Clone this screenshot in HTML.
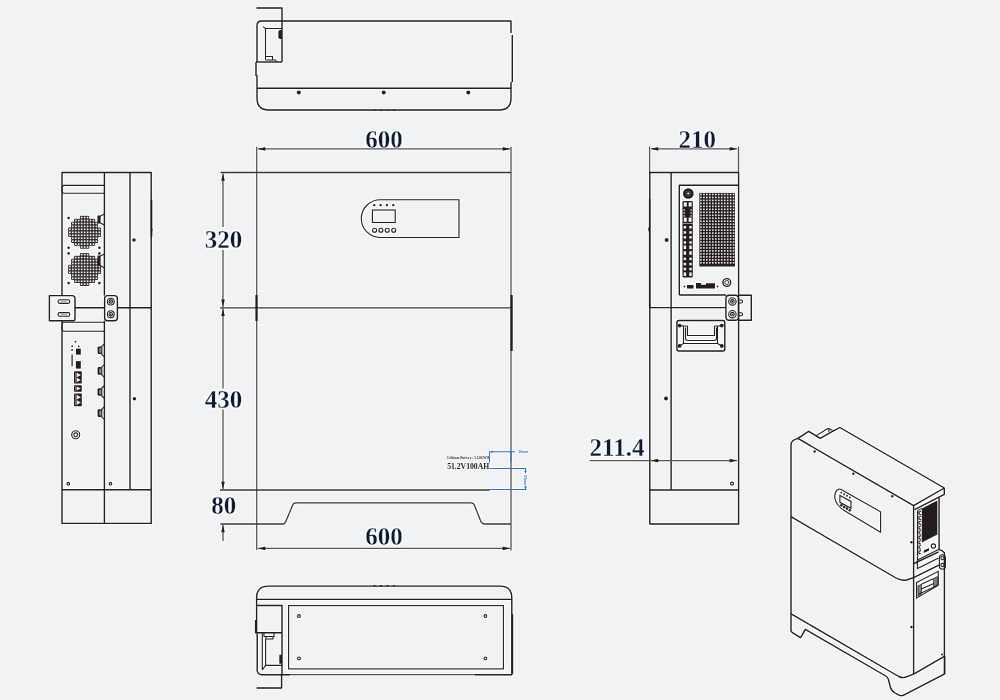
<!DOCTYPE html>
<html><head><meta charset="utf-8">
<style>
html,body{margin:0;padding:0;background:#f1f2f4;}
body{width:1000px;height:700px;overflow:hidden;}
svg{display:block;}
.o{fill:none;stroke:#251d1d;stroke-width:1.4;stroke-linejoin:round;}
.t{fill:none;stroke:#251d1d;stroke-width:1.1;}
.d{fill:none;stroke:#4a4140;stroke-width:1.2;}
.k{fill:#251d1d;stroke:none;}
.f{fill:none;stroke:#5a5050;stroke-width:1.3;}
.f2{fill:none;stroke:#3e3535;stroke-width:1.3;}
.k2{fill:#251d1d;stroke:none;}
.b{fill:none;stroke:#2f6fc0;stroke-width:1.05;}
.num{font-family:"Liberation Serif",serif;font-weight:bold;font-size:25px;fill:#0d1a33;stroke:#f1f2f4;stroke-width:0.3px;}
</style></head>
<body>
<svg width="1000" height="700" viewBox="0 0 1000 700">
<defs>
<filter id="halo" x="-2%" y="-2%" width="104%" height="104%" color-interpolation-filters="sRGB">
<feMorphology in="SourceAlpha" operator="dilate" radius="1.1" result="d"/>
<feFlood flood-color="#ffffff" flood-opacity="0.85"/>
<feComposite in2="d" operator="in" result="w"/>
<feMerge><feMergeNode in="w"/><feMergeNode in="SourceGraphic"/></feMerge>
</filter>
</defs>
<rect width="1000" height="700" fill="#f1f2f4"/>
<g filter="url(#halo)">


<!-- ========== TOP VIEW ========== -->
<g id="top">
  <path class="o" d="M256.5 8 H282 V62"/>
  <path class="o" d="M257 62 V25.5 Q257 21 261.5 21 H511 V33" stroke-width="1.6"/>
  <path class="o" d="M512.3 35 V82"/>
  <path class="o" d="M511 82 V98 Q511 110 499 110 H269 Q257 110 257 98 V75" stroke-width="1.7"/>
  <g class="k"><ellipse cx="374.5" cy="110.1" rx="1.3" ry="0.7"/><ellipse cx="381" cy="110.1" rx="1.3" ry="0.7"/><ellipse cx="387.5" cy="110.1" rx="1.3" ry="0.7"/><ellipse cx="394" cy="110.1" rx="1.3" ry="0.7"/></g>
  <path class="o" d="M256 62 V76" stroke-width="2.2"/>
  <path class="o" d="M256 62 H282"/>
  <path class="t" d="M263 26.6 L265.5 28.5 H281.5 M265.5 28.5 V59.5"/>
  <path class="k" d="M281.8 30 h-1.6 q-1.8 0 -1.8 1.8 v5.4 q0 1.8 1.8 1.8 h1.6z"/>
  <path class="t" d="M265.5 56.5 h7 v3 M265.5 60 h10 l1.5 2"/>
  <path class="o" d="M257 88.3 H511"/>
  <circle class="k" cx="298.8" cy="92.6" r="2"/>
  <circle class="k" cx="383.7" cy="92.6" r="2"/>
  <circle class="k" cx="468.3" cy="92.6" r="2"/>
</g>



<!-- ========== FRONT VIEW ========== -->
<g id="front">
  <!-- extension / outline -->
  <path class="f" d="M256.7 146.7 V550"/>
  <path class="f" d="M511 146.7 V550.5"/>
  <path class="f2" d="M220.5 172.5 H511"/>
  <path class="f2" d="M220 307.8 H511"/>
  <path class="f2" d="M220 490 H489.5"/>
  <path class="f2" d="M220.4 524 H283 Q285 524 285.8 521.5 L292.8 504.8 Q293.6 502.8 296 502.8 H471 Q473.4 502.8 474.2 504.8 L481 521.8 Q482 524 484.5 524 H511"/>
  <path class="k2" d="M255.4 295 h2.2 v26 h-2.2z"/>
  <path class="k2" d="M510.5 295 h2.2 v56 h-2.2z"/>
  <!-- dims top 600 -->
  <path class="f" d="M258 148.9 H510"/>
  <path class="k2" d="M258 148.9 l7.3 -1.9 v3.8z M510 148.9 l-7.3 -1.9 v3.8z"/>
  <text class="num" x="384" y="147.7" text-anchor="middle">600</text>
  <!-- 320 / 430 / 80 -->
  <path class="f" d="M223 173.5 V227 M223 250 V388.5 M223 409.5 V489 M223 525 V541"/>
  <path class="k2" d="M223 173.5 l-1.8 7.3 h3.6z M223 306.8 l-1.8 -7.3 h3.6z M223 308.8 l-1.8 7.3 h3.6z M223 489 l-1.8 -7.3 h3.6z M223 525 l-1.8 7.3 h3.6z"/>
  <text class="num" x="223.5" y="248.4" text-anchor="middle">320</text>
  <text class="num" x="223.4" y="407.9" text-anchor="middle">430</text>
  <text class="num" x="223.8" y="513.7" text-anchor="middle">80</text>
  <!-- bottom 600 -->
  <path class="f" d="M258 548.4 H510"/>
  <path class="k2" d="M258 548.4 l7.3 -1.9 v3.8z M510 548.4 l-7.3 -1.9 v3.8z"/>
  <text class="num" x="384" y="545" text-anchor="middle">600</text>
  <!-- display panel -->
  <path class="t" d="M380.3 199.7 H459 V237.5 H380.3 A19 18.9 0 0 1 380.3 199.7 Z"/>
  <rect class="t" x="372.4" y="210" width="22.8" height="12.5"/>
  <circle class="k" cx="374.3" cy="205.1" r="1.2"/>
  <circle class="k" cx="380.6" cy="205.1" r="1.2"/>
  <circle class="k" cx="386.9" cy="205.1" r="1.2"/>
  <circle class="k" cx="393.3" cy="205.1" r="1.2"/>
  <circle class="t" cx="374.6" cy="230.2" r="2"/>
  <circle class="t" cx="380.9" cy="230.2" r="2"/>
  <circle class="t" cx="387.2" cy="230.2" r="2"/>
  <circle class="t" cx="393.7" cy="230.2" r="2"/>
  <!-- label -->
  <text x="447.2" y="458.6" font-family="Liberation Serif" font-size="3.6" font-weight="bold" fill="#333" textLength="42" lengthAdjust="spacingAndGlyphs">Lithium Battery :  5.12KWH</text>
  <text x="447.2" y="469" font-family="Liberation Serif" font-size="8" font-weight="bold" fill="#1b1b1b" textLength="42" lengthAdjust="spacingAndGlyphs">51.2V100AH</text>
  <g class="b">
    <path d="M489.5 451.7 V462.5 M489.5 451.7 H515.2 M511 451.3 V462.5 M489.5 468.5 H526.4 M525.5 468.5 V473.2 M525.5 485.8 V489.6 M489 489.5 H526.4"/>
  </g>
  <path fill="#2f6fc0" d="M489.8 451.7 l2.8 -1.3 v2.6z M525.5 469.2 l-1.3 2.8 h2.6z M525.5 489.2 l-1.3 -2.8 h2.6z"/>
  <text x="518.3" y="453" font-family="Liberation Sans" font-size="3.4" font-weight="bold" fill="#2f6fc0">10mm</text>
  <text transform="translate(524.3 475.3) rotate(90)" font-family="Liberation Sans" font-size="3.4" font-weight="bold" fill="#2f6fc0">50mm</text>
</g>



<!-- ========== RIGHT SIDE VIEW ========== -->
<g id="rside">
  <path class="f" d="M649.6 146.5 V172.5 M738.5 146.5 V172.5"/>
  <path class="f" d="M651 148.8 H737"/>
  <path class="k2" d="M651 148.8 l7.3 -1.9 v3.8z M737 148.8 l-7.3 -1.9 v3.8z"/>
  <text class="num" x="697.2" y="147.8" text-anchor="middle">210</text>
  <!-- body -->
  <path class="o" d="M649.8 172.5 H738.6 V524 H649.8 Z" />
  <path class="o" d="M671.1 172.5 V490" stroke-width="1.9"/>
  <path class="o" d="M649.8 307.6 H725.9"/>
  <path class="o" d="M649.8 490 H738.6"/>
  <path class="k2" d="M648.9 199.3 h1.5 v108 h-1.5z"/><path class="k2" d="M649.2 226.5 q-2 2.8 0 5.6z"/>
  <circle class="k" cx="666.6" cy="240" r="2"/>
  <circle class="k" cx="666" cy="398.4" r="2"/>
  <circle class="t" cx="732" cy="483.6" r="1.5"/>
  <!-- panel -->
  <path class="o" d="M679.3 295 V185.3 H738.6"/>
  <path class="o" d="M679.3 295 H726"/>
  <g id="grilleR"><rect x="699.3" y="192.9" width="35.7" height="73.6" fill="#251d1d"/><g fill="#ecebed"><rect x="700.13" y="193.69" width="1.6" height="1.6"/><rect x="700.13" y="196.66" width="1.6" height="1.6"/><rect x="700.13" y="199.62" width="1.6" height="1.6"/><rect x="700.13" y="202.59" width="1.6" height="1.6"/><rect x="700.13" y="205.56" width="1.6" height="1.6"/><rect x="700.13" y="208.53" width="1.6" height="1.6"/><rect x="700.13" y="211.50" width="1.6" height="1.6"/><rect x="700.13" y="214.47" width="1.6" height="1.6"/><rect x="700.13" y="217.44" width="1.6" height="1.6"/><rect x="700.13" y="220.41" width="1.6" height="1.6"/><rect x="700.13" y="223.38" width="1.6" height="1.6"/><rect x="700.13" y="226.35" width="1.6" height="1.6"/><rect x="700.13" y="229.32" width="1.6" height="1.6"/><rect x="700.13" y="232.29" width="1.6" height="1.6"/><rect x="700.13" y="235.26" width="1.6" height="1.6"/><rect x="700.13" y="238.23" width="1.6" height="1.6"/><rect x="700.13" y="241.20" width="1.6" height="1.6"/><rect x="700.13" y="244.17" width="1.6" height="1.6"/><rect x="700.13" y="247.14" width="1.6" height="1.6"/><rect x="700.13" y="250.11" width="1.6" height="1.6"/><rect x="700.13" y="253.09" width="1.6" height="1.6"/><rect x="700.13" y="256.06" width="1.6" height="1.6"/><rect x="700.13" y="259.03" width="1.6" height="1.6"/><rect x="700.13" y="262.00" width="1.6" height="1.6"/><rect x="703.11" y="193.69" width="1.6" height="1.6"/><rect x="703.11" y="196.66" width="1.6" height="1.6"/><rect x="703.11" y="199.62" width="1.6" height="1.6"/><rect x="703.11" y="202.59" width="1.6" height="1.6"/><rect x="703.11" y="205.56" width="1.6" height="1.6"/><rect x="703.11" y="208.53" width="1.6" height="1.6"/><rect x="703.11" y="211.50" width="1.6" height="1.6"/><rect x="703.11" y="214.47" width="1.6" height="1.6"/><rect x="703.11" y="217.44" width="1.6" height="1.6"/><rect x="703.11" y="220.41" width="1.6" height="1.6"/><rect x="703.11" y="223.38" width="1.6" height="1.6"/><rect x="703.11" y="226.35" width="1.6" height="1.6"/><rect x="703.11" y="229.32" width="1.6" height="1.6"/><rect x="703.11" y="232.29" width="1.6" height="1.6"/><rect x="703.11" y="235.26" width="1.6" height="1.6"/><rect x="703.11" y="238.23" width="1.6" height="1.6"/><rect x="703.11" y="241.20" width="1.6" height="1.6"/><rect x="703.11" y="244.17" width="1.6" height="1.6"/><rect x="703.11" y="247.14" width="1.6" height="1.6"/><rect x="703.11" y="250.11" width="1.6" height="1.6"/><rect x="703.11" y="253.09" width="1.6" height="1.6"/><rect x="703.11" y="256.06" width="1.6" height="1.6"/><rect x="703.11" y="259.03" width="1.6" height="1.6"/><rect x="703.11" y="262.00" width="1.6" height="1.6"/><rect x="706.07" y="193.69" width="1.6" height="1.6"/><rect x="706.07" y="196.66" width="1.6" height="1.6"/><rect x="706.07" y="199.62" width="1.6" height="1.6"/><rect x="706.07" y="202.59" width="1.6" height="1.6"/><rect x="706.07" y="205.56" width="1.6" height="1.6"/><rect x="706.07" y="208.53" width="1.6" height="1.6"/><rect x="706.07" y="211.50" width="1.6" height="1.6"/><rect x="706.07" y="214.47" width="1.6" height="1.6"/><rect x="706.07" y="217.44" width="1.6" height="1.6"/><rect x="706.07" y="220.41" width="1.6" height="1.6"/><rect x="706.07" y="223.38" width="1.6" height="1.6"/><rect x="706.07" y="226.35" width="1.6" height="1.6"/><rect x="706.07" y="229.32" width="1.6" height="1.6"/><rect x="706.07" y="232.29" width="1.6" height="1.6"/><rect x="706.07" y="235.26" width="1.6" height="1.6"/><rect x="706.07" y="238.23" width="1.6" height="1.6"/><rect x="706.07" y="241.20" width="1.6" height="1.6"/><rect x="706.07" y="244.17" width="1.6" height="1.6"/><rect x="706.07" y="247.14" width="1.6" height="1.6"/><rect x="706.07" y="250.11" width="1.6" height="1.6"/><rect x="706.07" y="253.09" width="1.6" height="1.6"/><rect x="706.07" y="256.06" width="1.6" height="1.6"/><rect x="706.07" y="259.03" width="1.6" height="1.6"/><rect x="706.07" y="262.00" width="1.6" height="1.6"/><rect x="709.04" y="193.69" width="1.6" height="1.6"/><rect x="709.04" y="196.66" width="1.6" height="1.6"/><rect x="709.04" y="199.62" width="1.6" height="1.6"/><rect x="709.04" y="202.59" width="1.6" height="1.6"/><rect x="709.04" y="205.56" width="1.6" height="1.6"/><rect x="709.04" y="208.53" width="1.6" height="1.6"/><rect x="709.04" y="211.50" width="1.6" height="1.6"/><rect x="709.04" y="214.47" width="1.6" height="1.6"/><rect x="709.04" y="217.44" width="1.6" height="1.6"/><rect x="709.04" y="220.41" width="1.6" height="1.6"/><rect x="709.04" y="223.38" width="1.6" height="1.6"/><rect x="709.04" y="226.35" width="1.6" height="1.6"/><rect x="709.04" y="229.32" width="1.6" height="1.6"/><rect x="709.04" y="232.29" width="1.6" height="1.6"/><rect x="709.04" y="235.26" width="1.6" height="1.6"/><rect x="709.04" y="238.23" width="1.6" height="1.6"/><rect x="709.04" y="241.20" width="1.6" height="1.6"/><rect x="709.04" y="244.17" width="1.6" height="1.6"/><rect x="709.04" y="247.14" width="1.6" height="1.6"/><rect x="709.04" y="250.11" width="1.6" height="1.6"/><rect x="709.04" y="253.09" width="1.6" height="1.6"/><rect x="709.04" y="256.06" width="1.6" height="1.6"/><rect x="709.04" y="259.03" width="1.6" height="1.6"/><rect x="709.04" y="262.00" width="1.6" height="1.6"/><rect x="712.01" y="193.69" width="1.6" height="1.6"/><rect x="712.01" y="196.66" width="1.6" height="1.6"/><rect x="712.01" y="199.62" width="1.6" height="1.6"/><rect x="712.01" y="202.59" width="1.6" height="1.6"/><rect x="712.01" y="205.56" width="1.6" height="1.6"/><rect x="712.01" y="208.53" width="1.6" height="1.6"/><rect x="712.01" y="211.50" width="1.6" height="1.6"/><rect x="712.01" y="214.47" width="1.6" height="1.6"/><rect x="712.01" y="217.44" width="1.6" height="1.6"/><rect x="712.01" y="220.41" width="1.6" height="1.6"/><rect x="712.01" y="223.38" width="1.6" height="1.6"/><rect x="712.01" y="226.35" width="1.6" height="1.6"/><rect x="712.01" y="229.32" width="1.6" height="1.6"/><rect x="712.01" y="232.29" width="1.6" height="1.6"/><rect x="712.01" y="235.26" width="1.6" height="1.6"/><rect x="712.01" y="238.23" width="1.6" height="1.6"/><rect x="712.01" y="241.20" width="1.6" height="1.6"/><rect x="712.01" y="244.17" width="1.6" height="1.6"/><rect x="712.01" y="247.14" width="1.6" height="1.6"/><rect x="712.01" y="250.11" width="1.6" height="1.6"/><rect x="712.01" y="253.09" width="1.6" height="1.6"/><rect x="712.01" y="256.06" width="1.6" height="1.6"/><rect x="712.01" y="259.03" width="1.6" height="1.6"/><rect x="712.01" y="262.00" width="1.6" height="1.6"/><rect x="714.99" y="193.69" width="1.6" height="1.6"/><rect x="714.99" y="196.66" width="1.6" height="1.6"/><rect x="714.99" y="199.62" width="1.6" height="1.6"/><rect x="714.99" y="202.59" width="1.6" height="1.6"/><rect x="714.99" y="205.56" width="1.6" height="1.6"/><rect x="714.99" y="208.53" width="1.6" height="1.6"/><rect x="714.99" y="211.50" width="1.6" height="1.6"/><rect x="714.99" y="214.47" width="1.6" height="1.6"/><rect x="714.99" y="217.44" width="1.6" height="1.6"/><rect x="714.99" y="220.41" width="1.6" height="1.6"/><rect x="714.99" y="223.38" width="1.6" height="1.6"/><rect x="714.99" y="226.35" width="1.6" height="1.6"/><rect x="714.99" y="229.32" width="1.6" height="1.6"/><rect x="714.99" y="232.29" width="1.6" height="1.6"/><rect x="714.99" y="235.26" width="1.6" height="1.6"/><rect x="714.99" y="238.23" width="1.6" height="1.6"/><rect x="714.99" y="241.20" width="1.6" height="1.6"/><rect x="714.99" y="244.17" width="1.6" height="1.6"/><rect x="714.99" y="247.14" width="1.6" height="1.6"/><rect x="714.99" y="250.11" width="1.6" height="1.6"/><rect x="714.99" y="253.09" width="1.6" height="1.6"/><rect x="714.99" y="256.06" width="1.6" height="1.6"/><rect x="714.99" y="259.03" width="1.6" height="1.6"/><rect x="714.99" y="262.00" width="1.6" height="1.6"/><rect x="717.95" y="193.69" width="1.6" height="1.6"/><rect x="717.95" y="196.66" width="1.6" height="1.6"/><rect x="717.95" y="199.62" width="1.6" height="1.6"/><rect x="717.95" y="202.59" width="1.6" height="1.6"/><rect x="717.95" y="205.56" width="1.6" height="1.6"/><rect x="717.95" y="208.53" width="1.6" height="1.6"/><rect x="717.95" y="211.50" width="1.6" height="1.6"/><rect x="717.95" y="214.47" width="1.6" height="1.6"/><rect x="717.95" y="217.44" width="1.6" height="1.6"/><rect x="717.95" y="220.41" width="1.6" height="1.6"/><rect x="717.95" y="223.38" width="1.6" height="1.6"/><rect x="717.95" y="226.35" width="1.6" height="1.6"/><rect x="717.95" y="229.32" width="1.6" height="1.6"/><rect x="717.95" y="232.29" width="1.6" height="1.6"/><rect x="717.95" y="235.26" width="1.6" height="1.6"/><rect x="717.95" y="238.23" width="1.6" height="1.6"/><rect x="717.95" y="241.20" width="1.6" height="1.6"/><rect x="717.95" y="244.17" width="1.6" height="1.6"/><rect x="717.95" y="247.14" width="1.6" height="1.6"/><rect x="717.95" y="250.11" width="1.6" height="1.6"/><rect x="717.95" y="253.09" width="1.6" height="1.6"/><rect x="717.95" y="256.06" width="1.6" height="1.6"/><rect x="717.95" y="259.03" width="1.6" height="1.6"/><rect x="717.95" y="262.00" width="1.6" height="1.6"/><rect x="720.92" y="193.69" width="1.6" height="1.6"/><rect x="720.92" y="196.66" width="1.6" height="1.6"/><rect x="720.92" y="199.62" width="1.6" height="1.6"/><rect x="720.92" y="202.59" width="1.6" height="1.6"/><rect x="720.92" y="205.56" width="1.6" height="1.6"/><rect x="720.92" y="208.53" width="1.6" height="1.6"/><rect x="720.92" y="211.50" width="1.6" height="1.6"/><rect x="720.92" y="214.47" width="1.6" height="1.6"/><rect x="720.92" y="217.44" width="1.6" height="1.6"/><rect x="720.92" y="220.41" width="1.6" height="1.6"/><rect x="720.92" y="223.38" width="1.6" height="1.6"/><rect x="720.92" y="226.35" width="1.6" height="1.6"/><rect x="720.92" y="229.32" width="1.6" height="1.6"/><rect x="720.92" y="232.29" width="1.6" height="1.6"/><rect x="720.92" y="235.26" width="1.6" height="1.6"/><rect x="720.92" y="238.23" width="1.6" height="1.6"/><rect x="720.92" y="241.20" width="1.6" height="1.6"/><rect x="720.92" y="244.17" width="1.6" height="1.6"/><rect x="720.92" y="247.14" width="1.6" height="1.6"/><rect x="720.92" y="250.11" width="1.6" height="1.6"/><rect x="720.92" y="253.09" width="1.6" height="1.6"/><rect x="720.92" y="256.06" width="1.6" height="1.6"/><rect x="720.92" y="259.03" width="1.6" height="1.6"/><rect x="720.92" y="262.00" width="1.6" height="1.6"/><rect x="723.89" y="193.69" width="1.6" height="1.6"/><rect x="723.89" y="196.66" width="1.6" height="1.6"/><rect x="723.89" y="199.62" width="1.6" height="1.6"/><rect x="723.89" y="202.59" width="1.6" height="1.6"/><rect x="723.89" y="205.56" width="1.6" height="1.6"/><rect x="723.89" y="208.53" width="1.6" height="1.6"/><rect x="723.89" y="211.50" width="1.6" height="1.6"/><rect x="723.89" y="214.47" width="1.6" height="1.6"/><rect x="723.89" y="217.44" width="1.6" height="1.6"/><rect x="723.89" y="220.41" width="1.6" height="1.6"/><rect x="723.89" y="223.38" width="1.6" height="1.6"/><rect x="723.89" y="226.35" width="1.6" height="1.6"/><rect x="723.89" y="229.32" width="1.6" height="1.6"/><rect x="723.89" y="232.29" width="1.6" height="1.6"/><rect x="723.89" y="235.26" width="1.6" height="1.6"/><rect x="723.89" y="238.23" width="1.6" height="1.6"/><rect x="723.89" y="241.20" width="1.6" height="1.6"/><rect x="723.89" y="244.17" width="1.6" height="1.6"/><rect x="723.89" y="247.14" width="1.6" height="1.6"/><rect x="723.89" y="250.11" width="1.6" height="1.6"/><rect x="723.89" y="253.09" width="1.6" height="1.6"/><rect x="723.89" y="256.06" width="1.6" height="1.6"/><rect x="723.89" y="259.03" width="1.6" height="1.6"/><rect x="723.89" y="262.00" width="1.6" height="1.6"/><rect x="726.87" y="193.69" width="1.6" height="1.6"/><rect x="726.87" y="196.66" width="1.6" height="1.6"/><rect x="726.87" y="199.62" width="1.6" height="1.6"/><rect x="726.87" y="202.59" width="1.6" height="1.6"/><rect x="726.87" y="205.56" width="1.6" height="1.6"/><rect x="726.87" y="208.53" width="1.6" height="1.6"/><rect x="726.87" y="211.50" width="1.6" height="1.6"/><rect x="726.87" y="214.47" width="1.6" height="1.6"/><rect x="726.87" y="217.44" width="1.6" height="1.6"/><rect x="726.87" y="220.41" width="1.6" height="1.6"/><rect x="726.87" y="223.38" width="1.6" height="1.6"/><rect x="726.87" y="226.35" width="1.6" height="1.6"/><rect x="726.87" y="229.32" width="1.6" height="1.6"/><rect x="726.87" y="232.29" width="1.6" height="1.6"/><rect x="726.87" y="235.26" width="1.6" height="1.6"/><rect x="726.87" y="238.23" width="1.6" height="1.6"/><rect x="726.87" y="241.20" width="1.6" height="1.6"/><rect x="726.87" y="244.17" width="1.6" height="1.6"/><rect x="726.87" y="247.14" width="1.6" height="1.6"/><rect x="726.87" y="250.11" width="1.6" height="1.6"/><rect x="726.87" y="253.09" width="1.6" height="1.6"/><rect x="726.87" y="256.06" width="1.6" height="1.6"/><rect x="726.87" y="259.03" width="1.6" height="1.6"/><rect x="726.87" y="262.00" width="1.6" height="1.6"/><rect x="729.83" y="193.69" width="1.6" height="1.6"/><rect x="729.83" y="196.66" width="1.6" height="1.6"/><rect x="729.83" y="199.62" width="1.6" height="1.6"/><rect x="729.83" y="202.59" width="1.6" height="1.6"/><rect x="729.83" y="205.56" width="1.6" height="1.6"/><rect x="729.83" y="208.53" width="1.6" height="1.6"/><rect x="729.83" y="211.50" width="1.6" height="1.6"/><rect x="729.83" y="214.47" width="1.6" height="1.6"/><rect x="729.83" y="217.44" width="1.6" height="1.6"/><rect x="729.83" y="220.41" width="1.6" height="1.6"/><rect x="729.83" y="223.38" width="1.6" height="1.6"/><rect x="729.83" y="226.35" width="1.6" height="1.6"/><rect x="729.83" y="229.32" width="1.6" height="1.6"/><rect x="729.83" y="232.29" width="1.6" height="1.6"/><rect x="729.83" y="235.26" width="1.6" height="1.6"/><rect x="729.83" y="238.23" width="1.6" height="1.6"/><rect x="729.83" y="241.20" width="1.6" height="1.6"/><rect x="729.83" y="244.17" width="1.6" height="1.6"/><rect x="729.83" y="247.14" width="1.6" height="1.6"/><rect x="729.83" y="250.11" width="1.6" height="1.6"/><rect x="729.83" y="253.09" width="1.6" height="1.6"/><rect x="729.83" y="256.06" width="1.6" height="1.6"/><rect x="729.83" y="259.03" width="1.6" height="1.6"/><rect x="729.83" y="262.00" width="1.6" height="1.6"/><rect x="732.80" y="193.69" width="1.6" height="1.6"/><rect x="732.80" y="196.66" width="1.6" height="1.6"/><rect x="732.80" y="199.62" width="1.6" height="1.6"/><rect x="732.80" y="202.59" width="1.6" height="1.6"/><rect x="732.80" y="205.56" width="1.6" height="1.6"/><rect x="732.80" y="208.53" width="1.6" height="1.6"/><rect x="732.80" y="211.50" width="1.6" height="1.6"/><rect x="732.80" y="214.47" width="1.6" height="1.6"/><rect x="732.80" y="217.44" width="1.6" height="1.6"/><rect x="732.80" y="220.41" width="1.6" height="1.6"/><rect x="732.80" y="223.38" width="1.6" height="1.6"/><rect x="732.80" y="226.35" width="1.6" height="1.6"/><rect x="732.80" y="229.32" width="1.6" height="1.6"/><rect x="732.80" y="232.29" width="1.6" height="1.6"/><rect x="732.80" y="235.26" width="1.6" height="1.6"/><rect x="732.80" y="238.23" width="1.6" height="1.6"/><rect x="732.80" y="241.20" width="1.6" height="1.6"/><rect x="732.80" y="244.17" width="1.6" height="1.6"/><rect x="732.80" y="247.14" width="1.6" height="1.6"/><rect x="732.80" y="250.11" width="1.6" height="1.6"/><rect x="732.80" y="253.09" width="1.6" height="1.6"/><rect x="732.80" y="256.06" width="1.6" height="1.6"/><rect x="732.80" y="259.03" width="1.6" height="1.6"/><rect x="732.80" y="262.00" width="1.6" height="1.6"/></g></g>
  <circle cx="688.3" cy="193.5" r="5.3" fill="#251d1d"/>
  <circle cx="688.3" cy="193.5" r="2.7" fill="none" stroke="#6a6262" stroke-width="0.6"/>
  <circle cx="688.3" cy="193.5" r="1.1" fill="#f1f2f4"/>
  <g id="term"><rect x="682.5" y="201" width="10.3" height="76.4" rx="1" fill="#251d1d"/><g fill="#f1f2f4"><rect x="683.8" y="202.3" width="3" height="4.2"/><rect x="688.6" y="202.3" width="3" height="4.2"/><rect x="683.6" y="209.3" width="1.3" height="1.4"/><rect x="690.4" y="209.3" width="1.3" height="1.4"/><rect x="683.6" y="212.3" width="1.3" height="1.4"/><rect x="690.4" y="212.3" width="1.3" height="1.4"/><rect x="683.6" y="215.3" width="1.3" height="1.4"/><rect x="690.4" y="215.3" width="1.3" height="1.4"/><rect x="683.8" y="217.6" width="3" height="4.2"/><rect x="688.6" y="217.6" width="3" height="4.2"/></g><rect x="682.5" y="223" width="10.3" height="0.9" fill="#f1f2f4" opacity="0.6"/><g fill="#f1f2f4"><rect x="683.7" y="226" width="2.4" height="2.5"/><rect x="689.3" y="226" width="2.4" height="2.5"/><rect x="683.7" y="231.2" width="2.4" height="2.5"/><rect x="689.3" y="231.2" width="2.4" height="2.5"/><rect x="683.7" y="236.1" width="2.4" height="2.5"/><rect x="689.3" y="236.1" width="2.4" height="2.5"/><rect x="683.7" y="241.2" width="2.4" height="2.5"/><rect x="689.3" y="241.2" width="2.4" height="2.5"/><rect x="683.7" y="245.5" width="2.4" height="3.6"/><rect x="689.3" y="245.5" width="2.4" height="3.6"/><rect x="683.7" y="251.2" width="2.4" height="3.6"/><rect x="689.3" y="251.2" width="2.4" height="3.6"/><rect x="683.7" y="257.6" width="2.4" height="2.5"/><rect x="689.3" y="257.6" width="2.4" height="2.5"/><rect x="683.7" y="262.8" width="2.4" height="2.5"/><rect x="689.3" y="262.8" width="2.4" height="2.5"/><rect x="683.7" y="267.8" width="2.4" height="2.5"/><rect x="689.3" y="267.8" width="2.4" height="2.5"/><rect x="683.7" y="272.4" width="2.4" height="3.6"/><rect x="689.3" y="272.4" width="2.4" height="3.6"/></g></g>
  <circle class="k" cx="684.5" cy="286.5" r="0.9"/>
  <rect x="687" y="285" width="6.5" height="3.5" fill="#251d1d"/>
  <path fill="#251d1d" d="M696 288.6 V283 h5 v1.8 h5 v-1.6 h9 v5.4z"/>
  <circle class="k" cx="717.5" cy="286.5" r="0.9"/>
  <circle cx="726.8" cy="282.5" r="3.9" fill="none" stroke="#251d1d" stroke-width="1.4"/>
  <circle cx="726.8" cy="282.5" r="2" fill="none" stroke="#251d1d" stroke-width="0.9"/>
  <!-- bracket -->
  <path class="o" d="M738.6 295.3 H751.3 V320.3 H738.6"/>
  <path class="o" d="M729.2 295.3 H735.3 Q738.5 295.3 738.5 298.5 V317 Q738.5 320.3 735.3 320.3 H729.2 Q725.9 320.3 725.9 317 V298.5 Q725.9 295.3 729.2 295.3 Z"/>
  <circle class="t" cx="732.4" cy="301.4" r="3.7" stroke-width="1"/>
  <circle class="t" cx="732.4" cy="301.4" r="1.8" stroke-width="0.7"/>
  <circle class="k" cx="732.4" cy="301.4" r="0.8"/>
  <circle class="t" cx="732.4" cy="314.2" r="3.7" stroke-width="1"/>
  <circle class="t" cx="732.4" cy="314.2" r="1.8" stroke-width="0.7"/>
  <circle class="k" cx="732.4" cy="314.2" r="0.8"/>
  <path class="t" d="M738.6 300 h2.5 a1.5 1.5 0 0 1 0 3 h-2.5 M738.6 312.8 h2.5 a1.5 1.5 0 0 1 0 3 h-2.5" stroke-width="0.9"/>
  <!-- handle -->
  <rect class="o" x="676.9" y="320.5" width="47.9" height="30.5" rx="2" stroke-width="1.3"/>
  <circle class="k" cx="679.6" cy="325.6" r="1.9"/>
  <circle class="k" cx="721.8" cy="325.6" r="1.9"/>
  <circle class="k" cx="679.6" cy="345.9" r="1.9"/>
  <circle class="k" cx="721.8" cy="345.9" r="1.9"/>
  <path class="t" d="M683.5 326 V343.5 H717.5 V326 M687.5 326 V335.5 H714.5 V326 M683.5 326 H687.5 M714.5 326 H717.5" stroke-width="1.2"/>
  <path class="t" d="M685.5 327.5 V338 Q685.5 340.5 688 340.5 H714 Q716.5 340.5 716.5 338 V327.5" stroke-width="1"/>
  <path class="t" d="M679.6 345.9 L683.5 343.5 M721.8 345.9 L717.5 343.5 M679.6 325.6 L683.5 326 M721.8 325.6 L717.5 326" stroke-width="0.8"/>
  <!-- dim 211.4 -->
  <path class="f" d="M589.6 460.6 H737"/>
  <path class="k2" d="M651 460.6 l7.3 -1.9 v3.8z M737 460.6 l-7.3 -1.9 v3.8z"/>
  <text class="num" x="617" y="455.6" text-anchor="middle">211.4</text>
</g>


<!-- ========== LEFT SIDE VIEW ========== -->
<g id="lside">
  <path class="o" d="M62 295.6 V172.5 H151.2 V523.4 H62 V320.8" stroke-width="1.25"/>
  <path class="o" d="M104.4 172.5 V295.6 M104.4 320.8 V523.4" stroke-width="1.2"/>
  <path class="o" d="M130 172.5 V490" stroke-width="1.9"/>
  <path class="o" d="M62 489.7 H151.2" stroke-width="1.3"/>
  <path class="o" d="M75 307.8 H104.4 M117.4 307.8 H151.2" stroke-width="1.4"/>
  <path class="t" d="M104.4 185.4 H64 Q62 185.4 62 189.3 Q62 193.3 64 193.3 H104.4" stroke-width="1.3"/>
  <path class="t" d="M104.4 322.2 H64 Q62 322.2 62 326.7 Q62 331.2 64 331.2 H104.4" stroke-width="1.3"/>
  <path class="k2" d="M150.6 199.6 h1.7 v37 h-1.7z"/><path class="k2" d="M151.5 227 q2 2.8 0 5.6z"/>
  <circle class="k" cx="134" cy="240" r="1.7"/>
  <circle class="k" cx="134.4" cy="398.8" r="1.7"/>
  <!-- fans -->
  <g id="fans"><g fill="#251d1d"><rect x="68.10" y="227.60" width="3.5" height="3.5" rx="1.2"/><rect x="68.10" y="230.55" width="3.5" height="3.5" rx="1.2"/><rect x="68.10" y="233.50" width="3.5" height="3.5" rx="1.2"/><rect x="71.05" y="221.70" width="3.5" height="3.5" rx="1.2"/><rect x="71.05" y="224.65" width="3.5" height="3.5" rx="1.2"/><rect x="71.05" y="227.60" width="3.5" height="3.5" rx="1.2"/><rect x="71.05" y="230.55" width="3.5" height="3.5" rx="1.2"/><rect x="71.05" y="233.50" width="3.5" height="3.5" rx="1.2"/><rect x="71.05" y="236.45" width="3.5" height="3.5" rx="1.2"/><rect x="71.05" y="239.40" width="3.5" height="3.5" rx="1.2"/><rect x="74.00" y="218.75" width="3.5" height="3.5" rx="1.2"/><rect x="74.00" y="221.70" width="3.5" height="3.5" rx="1.2"/><rect x="74.00" y="224.65" width="3.5" height="3.5" rx="1.2"/><rect x="74.00" y="227.60" width="3.5" height="3.5" rx="1.2"/><rect x="74.00" y="230.55" width="3.5" height="3.5" rx="1.2"/><rect x="74.00" y="233.50" width="3.5" height="3.5" rx="1.2"/><rect x="74.00" y="236.45" width="3.5" height="3.5" rx="1.2"/><rect x="74.00" y="239.40" width="3.5" height="3.5" rx="1.2"/><rect x="74.00" y="242.35" width="3.5" height="3.5" rx="1.2"/><rect x="76.95" y="218.75" width="3.5" height="3.5" rx="1.2"/><rect x="76.95" y="221.70" width="3.5" height="3.5" rx="1.2"/><rect x="76.95" y="224.65" width="3.5" height="3.5" rx="1.2"/><rect x="76.95" y="227.60" width="3.5" height="3.5" rx="1.2"/><rect x="76.95" y="230.55" width="3.5" height="3.5" rx="1.2"/><rect x="76.95" y="233.50" width="3.5" height="3.5" rx="1.2"/><rect x="76.95" y="236.45" width="3.5" height="3.5" rx="1.2"/><rect x="76.95" y="239.40" width="3.5" height="3.5" rx="1.2"/><rect x="76.95" y="242.35" width="3.5" height="3.5" rx="1.2"/><rect x="79.90" y="215.80" width="3.5" height="3.5" rx="1.2"/><rect x="79.90" y="218.75" width="3.5" height="3.5" rx="1.2"/><rect x="79.90" y="221.70" width="3.5" height="3.5" rx="1.2"/><rect x="79.90" y="224.65" width="3.5" height="3.5" rx="1.2"/><rect x="79.90" y="227.60" width="3.5" height="3.5" rx="1.2"/><rect x="79.90" y="230.55" width="3.5" height="3.5" rx="1.2"/><rect x="79.90" y="233.50" width="3.5" height="3.5" rx="1.2"/><rect x="79.90" y="236.45" width="3.5" height="3.5" rx="1.2"/><rect x="79.90" y="239.40" width="3.5" height="3.5" rx="1.2"/><rect x="79.90" y="242.35" width="3.5" height="3.5" rx="1.2"/><rect x="79.90" y="245.30" width="3.5" height="3.5" rx="1.2"/><rect x="82.85" y="215.80" width="3.5" height="3.5" rx="1.2"/><rect x="82.85" y="218.75" width="3.5" height="3.5" rx="1.2"/><rect x="82.85" y="221.70" width="3.5" height="3.5" rx="1.2"/><rect x="82.85" y="224.65" width="3.5" height="3.5" rx="1.2"/><rect x="82.85" y="227.60" width="3.5" height="3.5" rx="1.2"/><rect x="82.85" y="230.55" width="3.5" height="3.5" rx="1.2"/><rect x="82.85" y="233.50" width="3.5" height="3.5" rx="1.2"/><rect x="82.85" y="236.45" width="3.5" height="3.5" rx="1.2"/><rect x="82.85" y="239.40" width="3.5" height="3.5" rx="1.2"/><rect x="82.85" y="242.35" width="3.5" height="3.5" rx="1.2"/><rect x="82.85" y="245.30" width="3.5" height="3.5" rx="1.2"/><rect x="85.80" y="215.80" width="3.5" height="3.5" rx="1.2"/><rect x="85.80" y="218.75" width="3.5" height="3.5" rx="1.2"/><rect x="85.80" y="221.70" width="3.5" height="3.5" rx="1.2"/><rect x="85.80" y="224.65" width="3.5" height="3.5" rx="1.2"/><rect x="85.80" y="227.60" width="3.5" height="3.5" rx="1.2"/><rect x="85.80" y="230.55" width="3.5" height="3.5" rx="1.2"/><rect x="85.80" y="233.50" width="3.5" height="3.5" rx="1.2"/><rect x="85.80" y="236.45" width="3.5" height="3.5" rx="1.2"/><rect x="85.80" y="239.40" width="3.5" height="3.5" rx="1.2"/><rect x="85.80" y="242.35" width="3.5" height="3.5" rx="1.2"/><rect x="85.80" y="245.30" width="3.5" height="3.5" rx="1.2"/><rect x="88.75" y="218.75" width="3.5" height="3.5" rx="1.2"/><rect x="88.75" y="221.70" width="3.5" height="3.5" rx="1.2"/><rect x="88.75" y="224.65" width="3.5" height="3.5" rx="1.2"/><rect x="88.75" y="227.60" width="3.5" height="3.5" rx="1.2"/><rect x="88.75" y="230.55" width="3.5" height="3.5" rx="1.2"/><rect x="88.75" y="233.50" width="3.5" height="3.5" rx="1.2"/><rect x="88.75" y="236.45" width="3.5" height="3.5" rx="1.2"/><rect x="88.75" y="239.40" width="3.5" height="3.5" rx="1.2"/><rect x="88.75" y="242.35" width="3.5" height="3.5" rx="1.2"/><rect x="91.70" y="218.75" width="3.5" height="3.5" rx="1.2"/><rect x="91.70" y="221.70" width="3.5" height="3.5" rx="1.2"/><rect x="91.70" y="224.65" width="3.5" height="3.5" rx="1.2"/><rect x="91.70" y="227.60" width="3.5" height="3.5" rx="1.2"/><rect x="91.70" y="230.55" width="3.5" height="3.5" rx="1.2"/><rect x="91.70" y="233.50" width="3.5" height="3.5" rx="1.2"/><rect x="91.70" y="236.45" width="3.5" height="3.5" rx="1.2"/><rect x="91.70" y="239.40" width="3.5" height="3.5" rx="1.2"/><rect x="91.70" y="242.35" width="3.5" height="3.5" rx="1.2"/><rect x="94.65" y="221.70" width="3.5" height="3.5" rx="1.2"/><rect x="94.65" y="224.65" width="3.5" height="3.5" rx="1.2"/><rect x="94.65" y="227.60" width="3.5" height="3.5" rx="1.2"/><rect x="94.65" y="230.55" width="3.5" height="3.5" rx="1.2"/><rect x="94.65" y="233.50" width="3.5" height="3.5" rx="1.2"/><rect x="94.65" y="236.45" width="3.5" height="3.5" rx="1.2"/><rect x="94.65" y="239.40" width="3.5" height="3.5" rx="1.2"/><rect x="97.60" y="227.60" width="3.5" height="3.5" rx="1.2"/><rect x="97.60" y="230.55" width="3.5" height="3.5" rx="1.2"/><rect x="97.60" y="233.50" width="3.5" height="3.5" rx="1.2"/></g><g fill="#f4f4f6"><rect x="69.00" y="228.50" width="1.7" height="1.7"/><rect x="69.00" y="231.45" width="1.7" height="1.7"/><rect x="69.00" y="234.40" width="1.7" height="1.7"/><rect x="71.95" y="222.60" width="1.7" height="1.7"/><rect x="71.95" y="225.55" width="1.7" height="1.7"/><rect x="71.95" y="228.50" width="1.7" height="1.7"/><rect x="71.95" y="231.45" width="1.7" height="1.7"/><rect x="71.95" y="234.40" width="1.7" height="1.7"/><rect x="71.95" y="237.35" width="1.7" height="1.7"/><rect x="71.95" y="240.30" width="1.7" height="1.7"/><rect x="74.90" y="219.65" width="1.7" height="1.7"/><rect x="74.90" y="222.60" width="1.7" height="1.7"/><rect x="74.90" y="225.55" width="1.7" height="1.7"/><rect x="74.90" y="228.50" width="1.7" height="1.7"/><rect x="74.90" y="231.45" width="1.7" height="1.7"/><rect x="74.90" y="234.40" width="1.7" height="1.7"/><rect x="74.90" y="237.35" width="1.7" height="1.7"/><rect x="74.90" y="240.30" width="1.7" height="1.7"/><rect x="74.90" y="243.25" width="1.7" height="1.7"/><rect x="77.85" y="219.65" width="1.7" height="1.7"/><rect x="77.85" y="222.60" width="1.7" height="1.7"/><rect x="77.85" y="225.55" width="1.7" height="1.7"/><rect x="77.85" y="228.50" width="1.7" height="1.7"/><rect x="77.85" y="231.45" width="1.7" height="1.7"/><rect x="77.85" y="234.40" width="1.7" height="1.7"/><rect x="77.85" y="237.35" width="1.7" height="1.7"/><rect x="77.85" y="240.30" width="1.7" height="1.7"/><rect x="77.85" y="243.25" width="1.7" height="1.7"/><rect x="80.80" y="216.70" width="1.7" height="1.7"/><rect x="80.80" y="219.65" width="1.7" height="1.7"/><rect x="80.80" y="222.60" width="1.7" height="1.7"/><rect x="80.80" y="225.55" width="1.7" height="1.7"/><rect x="80.80" y="228.50" width="1.7" height="1.7"/><rect x="80.80" y="231.45" width="1.7" height="1.7"/><rect x="80.80" y="234.40" width="1.7" height="1.7"/><rect x="80.80" y="237.35" width="1.7" height="1.7"/><rect x="80.80" y="240.30" width="1.7" height="1.7"/><rect x="80.80" y="243.25" width="1.7" height="1.7"/><rect x="80.80" y="246.20" width="1.7" height="1.7"/><rect x="83.75" y="216.70" width="1.7" height="1.7"/><rect x="83.75" y="219.65" width="1.7" height="1.7"/><rect x="83.75" y="222.60" width="1.7" height="1.7"/><rect x="83.75" y="225.55" width="1.7" height="1.7"/><rect x="83.75" y="228.50" width="1.7" height="1.7"/><rect x="83.75" y="231.45" width="1.7" height="1.7"/><rect x="83.75" y="234.40" width="1.7" height="1.7"/><rect x="83.75" y="237.35" width="1.7" height="1.7"/><rect x="83.75" y="240.30" width="1.7" height="1.7"/><rect x="83.75" y="243.25" width="1.7" height="1.7"/><rect x="83.75" y="246.20" width="1.7" height="1.7"/><rect x="86.70" y="216.70" width="1.7" height="1.7"/><rect x="86.70" y="219.65" width="1.7" height="1.7"/><rect x="86.70" y="222.60" width="1.7" height="1.7"/><rect x="86.70" y="225.55" width="1.7" height="1.7"/><rect x="86.70" y="228.50" width="1.7" height="1.7"/><rect x="86.70" y="231.45" width="1.7" height="1.7"/><rect x="86.70" y="234.40" width="1.7" height="1.7"/><rect x="86.70" y="237.35" width="1.7" height="1.7"/><rect x="86.70" y="240.30" width="1.7" height="1.7"/><rect x="86.70" y="243.25" width="1.7" height="1.7"/><rect x="86.70" y="246.20" width="1.7" height="1.7"/><rect x="89.65" y="219.65" width="1.7" height="1.7"/><rect x="89.65" y="222.60" width="1.7" height="1.7"/><rect x="89.65" y="225.55" width="1.7" height="1.7"/><rect x="89.65" y="228.50" width="1.7" height="1.7"/><rect x="89.65" y="231.45" width="1.7" height="1.7"/><rect x="89.65" y="234.40" width="1.7" height="1.7"/><rect x="89.65" y="237.35" width="1.7" height="1.7"/><rect x="89.65" y="240.30" width="1.7" height="1.7"/><rect x="89.65" y="243.25" width="1.7" height="1.7"/><rect x="92.60" y="219.65" width="1.7" height="1.7"/><rect x="92.60" y="222.60" width="1.7" height="1.7"/><rect x="92.60" y="225.55" width="1.7" height="1.7"/><rect x="92.60" y="228.50" width="1.7" height="1.7"/><rect x="92.60" y="231.45" width="1.7" height="1.7"/><rect x="92.60" y="234.40" width="1.7" height="1.7"/><rect x="92.60" y="237.35" width="1.7" height="1.7"/><rect x="92.60" y="240.30" width="1.7" height="1.7"/><rect x="92.60" y="243.25" width="1.7" height="1.7"/><rect x="95.55" y="222.60" width="1.7" height="1.7"/><rect x="95.55" y="225.55" width="1.7" height="1.7"/><rect x="95.55" y="228.50" width="1.7" height="1.7"/><rect x="95.55" y="231.45" width="1.7" height="1.7"/><rect x="95.55" y="234.40" width="1.7" height="1.7"/><rect x="95.55" y="237.35" width="1.7" height="1.7"/><rect x="95.55" y="240.30" width="1.7" height="1.7"/><rect x="98.50" y="228.50" width="1.7" height="1.7"/><rect x="98.50" y="231.45" width="1.7" height="1.7"/><rect x="98.50" y="234.40" width="1.7" height="1.7"/></g><g fill="#251d1d"><rect x="68.10" y="264.70" width="3.5" height="3.5" rx="1.2"/><rect x="68.10" y="267.65" width="3.5" height="3.5" rx="1.2"/><rect x="68.10" y="270.60" width="3.5" height="3.5" rx="1.2"/><rect x="71.05" y="258.80" width="3.5" height="3.5" rx="1.2"/><rect x="71.05" y="261.75" width="3.5" height="3.5" rx="1.2"/><rect x="71.05" y="264.70" width="3.5" height="3.5" rx="1.2"/><rect x="71.05" y="267.65" width="3.5" height="3.5" rx="1.2"/><rect x="71.05" y="270.60" width="3.5" height="3.5" rx="1.2"/><rect x="71.05" y="273.55" width="3.5" height="3.5" rx="1.2"/><rect x="71.05" y="276.50" width="3.5" height="3.5" rx="1.2"/><rect x="74.00" y="255.85" width="3.5" height="3.5" rx="1.2"/><rect x="74.00" y="258.80" width="3.5" height="3.5" rx="1.2"/><rect x="74.00" y="261.75" width="3.5" height="3.5" rx="1.2"/><rect x="74.00" y="264.70" width="3.5" height="3.5" rx="1.2"/><rect x="74.00" y="267.65" width="3.5" height="3.5" rx="1.2"/><rect x="74.00" y="270.60" width="3.5" height="3.5" rx="1.2"/><rect x="74.00" y="273.55" width="3.5" height="3.5" rx="1.2"/><rect x="74.00" y="276.50" width="3.5" height="3.5" rx="1.2"/><rect x="74.00" y="279.45" width="3.5" height="3.5" rx="1.2"/><rect x="76.95" y="255.85" width="3.5" height="3.5" rx="1.2"/><rect x="76.95" y="258.80" width="3.5" height="3.5" rx="1.2"/><rect x="76.95" y="261.75" width="3.5" height="3.5" rx="1.2"/><rect x="76.95" y="264.70" width="3.5" height="3.5" rx="1.2"/><rect x="76.95" y="267.65" width="3.5" height="3.5" rx="1.2"/><rect x="76.95" y="270.60" width="3.5" height="3.5" rx="1.2"/><rect x="76.95" y="273.55" width="3.5" height="3.5" rx="1.2"/><rect x="76.95" y="276.50" width="3.5" height="3.5" rx="1.2"/><rect x="76.95" y="279.45" width="3.5" height="3.5" rx="1.2"/><rect x="79.90" y="252.90" width="3.5" height="3.5" rx="1.2"/><rect x="79.90" y="255.85" width="3.5" height="3.5" rx="1.2"/><rect x="79.90" y="258.80" width="3.5" height="3.5" rx="1.2"/><rect x="79.90" y="261.75" width="3.5" height="3.5" rx="1.2"/><rect x="79.90" y="264.70" width="3.5" height="3.5" rx="1.2"/><rect x="79.90" y="267.65" width="3.5" height="3.5" rx="1.2"/><rect x="79.90" y="270.60" width="3.5" height="3.5" rx="1.2"/><rect x="79.90" y="273.55" width="3.5" height="3.5" rx="1.2"/><rect x="79.90" y="276.50" width="3.5" height="3.5" rx="1.2"/><rect x="79.90" y="279.45" width="3.5" height="3.5" rx="1.2"/><rect x="79.90" y="282.40" width="3.5" height="3.5" rx="1.2"/><rect x="82.85" y="252.90" width="3.5" height="3.5" rx="1.2"/><rect x="82.85" y="255.85" width="3.5" height="3.5" rx="1.2"/><rect x="82.85" y="258.80" width="3.5" height="3.5" rx="1.2"/><rect x="82.85" y="261.75" width="3.5" height="3.5" rx="1.2"/><rect x="82.85" y="264.70" width="3.5" height="3.5" rx="1.2"/><rect x="82.85" y="267.65" width="3.5" height="3.5" rx="1.2"/><rect x="82.85" y="270.60" width="3.5" height="3.5" rx="1.2"/><rect x="82.85" y="273.55" width="3.5" height="3.5" rx="1.2"/><rect x="82.85" y="276.50" width="3.5" height="3.5" rx="1.2"/><rect x="82.85" y="279.45" width="3.5" height="3.5" rx="1.2"/><rect x="82.85" y="282.40" width="3.5" height="3.5" rx="1.2"/><rect x="85.80" y="252.90" width="3.5" height="3.5" rx="1.2"/><rect x="85.80" y="255.85" width="3.5" height="3.5" rx="1.2"/><rect x="85.80" y="258.80" width="3.5" height="3.5" rx="1.2"/><rect x="85.80" y="261.75" width="3.5" height="3.5" rx="1.2"/><rect x="85.80" y="264.70" width="3.5" height="3.5" rx="1.2"/><rect x="85.80" y="267.65" width="3.5" height="3.5" rx="1.2"/><rect x="85.80" y="270.60" width="3.5" height="3.5" rx="1.2"/><rect x="85.80" y="273.55" width="3.5" height="3.5" rx="1.2"/><rect x="85.80" y="276.50" width="3.5" height="3.5" rx="1.2"/><rect x="85.80" y="279.45" width="3.5" height="3.5" rx="1.2"/><rect x="85.80" y="282.40" width="3.5" height="3.5" rx="1.2"/><rect x="88.75" y="255.85" width="3.5" height="3.5" rx="1.2"/><rect x="88.75" y="258.80" width="3.5" height="3.5" rx="1.2"/><rect x="88.75" y="261.75" width="3.5" height="3.5" rx="1.2"/><rect x="88.75" y="264.70" width="3.5" height="3.5" rx="1.2"/><rect x="88.75" y="267.65" width="3.5" height="3.5" rx="1.2"/><rect x="88.75" y="270.60" width="3.5" height="3.5" rx="1.2"/><rect x="88.75" y="273.55" width="3.5" height="3.5" rx="1.2"/><rect x="88.75" y="276.50" width="3.5" height="3.5" rx="1.2"/><rect x="88.75" y="279.45" width="3.5" height="3.5" rx="1.2"/><rect x="91.70" y="255.85" width="3.5" height="3.5" rx="1.2"/><rect x="91.70" y="258.80" width="3.5" height="3.5" rx="1.2"/><rect x="91.70" y="261.75" width="3.5" height="3.5" rx="1.2"/><rect x="91.70" y="264.70" width="3.5" height="3.5" rx="1.2"/><rect x="91.70" y="267.65" width="3.5" height="3.5" rx="1.2"/><rect x="91.70" y="270.60" width="3.5" height="3.5" rx="1.2"/><rect x="91.70" y="273.55" width="3.5" height="3.5" rx="1.2"/><rect x="91.70" y="276.50" width="3.5" height="3.5" rx="1.2"/><rect x="91.70" y="279.45" width="3.5" height="3.5" rx="1.2"/><rect x="94.65" y="258.80" width="3.5" height="3.5" rx="1.2"/><rect x="94.65" y="261.75" width="3.5" height="3.5" rx="1.2"/><rect x="94.65" y="264.70" width="3.5" height="3.5" rx="1.2"/><rect x="94.65" y="267.65" width="3.5" height="3.5" rx="1.2"/><rect x="94.65" y="270.60" width="3.5" height="3.5" rx="1.2"/><rect x="94.65" y="273.55" width="3.5" height="3.5" rx="1.2"/><rect x="94.65" y="276.50" width="3.5" height="3.5" rx="1.2"/><rect x="97.60" y="264.70" width="3.5" height="3.5" rx="1.2"/><rect x="97.60" y="267.65" width="3.5" height="3.5" rx="1.2"/><rect x="97.60" y="270.60" width="3.5" height="3.5" rx="1.2"/></g><g fill="#f4f4f6"><rect x="69.00" y="265.60" width="1.7" height="1.7"/><rect x="69.00" y="268.55" width="1.7" height="1.7"/><rect x="69.00" y="271.50" width="1.7" height="1.7"/><rect x="71.95" y="259.70" width="1.7" height="1.7"/><rect x="71.95" y="262.65" width="1.7" height="1.7"/><rect x="71.95" y="265.60" width="1.7" height="1.7"/><rect x="71.95" y="268.55" width="1.7" height="1.7"/><rect x="71.95" y="271.50" width="1.7" height="1.7"/><rect x="71.95" y="274.45" width="1.7" height="1.7"/><rect x="71.95" y="277.40" width="1.7" height="1.7"/><rect x="74.90" y="256.75" width="1.7" height="1.7"/><rect x="74.90" y="259.70" width="1.7" height="1.7"/><rect x="74.90" y="262.65" width="1.7" height="1.7"/><rect x="74.90" y="265.60" width="1.7" height="1.7"/><rect x="74.90" y="268.55" width="1.7" height="1.7"/><rect x="74.90" y="271.50" width="1.7" height="1.7"/><rect x="74.90" y="274.45" width="1.7" height="1.7"/><rect x="74.90" y="277.40" width="1.7" height="1.7"/><rect x="74.90" y="280.35" width="1.7" height="1.7"/><rect x="77.85" y="256.75" width="1.7" height="1.7"/><rect x="77.85" y="259.70" width="1.7" height="1.7"/><rect x="77.85" y="262.65" width="1.7" height="1.7"/><rect x="77.85" y="265.60" width="1.7" height="1.7"/><rect x="77.85" y="268.55" width="1.7" height="1.7"/><rect x="77.85" y="271.50" width="1.7" height="1.7"/><rect x="77.85" y="274.45" width="1.7" height="1.7"/><rect x="77.85" y="277.40" width="1.7" height="1.7"/><rect x="77.85" y="280.35" width="1.7" height="1.7"/><rect x="80.80" y="253.80" width="1.7" height="1.7"/><rect x="80.80" y="256.75" width="1.7" height="1.7"/><rect x="80.80" y="259.70" width="1.7" height="1.7"/><rect x="80.80" y="262.65" width="1.7" height="1.7"/><rect x="80.80" y="265.60" width="1.7" height="1.7"/><rect x="80.80" y="268.55" width="1.7" height="1.7"/><rect x="80.80" y="271.50" width="1.7" height="1.7"/><rect x="80.80" y="274.45" width="1.7" height="1.7"/><rect x="80.80" y="277.40" width="1.7" height="1.7"/><rect x="80.80" y="280.35" width="1.7" height="1.7"/><rect x="80.80" y="283.30" width="1.7" height="1.7"/><rect x="83.75" y="253.80" width="1.7" height="1.7"/><rect x="83.75" y="256.75" width="1.7" height="1.7"/><rect x="83.75" y="259.70" width="1.7" height="1.7"/><rect x="83.75" y="262.65" width="1.7" height="1.7"/><rect x="83.75" y="265.60" width="1.7" height="1.7"/><rect x="83.75" y="268.55" width="1.7" height="1.7"/><rect x="83.75" y="271.50" width="1.7" height="1.7"/><rect x="83.75" y="274.45" width="1.7" height="1.7"/><rect x="83.75" y="277.40" width="1.7" height="1.7"/><rect x="83.75" y="280.35" width="1.7" height="1.7"/><rect x="83.75" y="283.30" width="1.7" height="1.7"/><rect x="86.70" y="253.80" width="1.7" height="1.7"/><rect x="86.70" y="256.75" width="1.7" height="1.7"/><rect x="86.70" y="259.70" width="1.7" height="1.7"/><rect x="86.70" y="262.65" width="1.7" height="1.7"/><rect x="86.70" y="265.60" width="1.7" height="1.7"/><rect x="86.70" y="268.55" width="1.7" height="1.7"/><rect x="86.70" y="271.50" width="1.7" height="1.7"/><rect x="86.70" y="274.45" width="1.7" height="1.7"/><rect x="86.70" y="277.40" width="1.7" height="1.7"/><rect x="86.70" y="280.35" width="1.7" height="1.7"/><rect x="86.70" y="283.30" width="1.7" height="1.7"/><rect x="89.65" y="256.75" width="1.7" height="1.7"/><rect x="89.65" y="259.70" width="1.7" height="1.7"/><rect x="89.65" y="262.65" width="1.7" height="1.7"/><rect x="89.65" y="265.60" width="1.7" height="1.7"/><rect x="89.65" y="268.55" width="1.7" height="1.7"/><rect x="89.65" y="271.50" width="1.7" height="1.7"/><rect x="89.65" y="274.45" width="1.7" height="1.7"/><rect x="89.65" y="277.40" width="1.7" height="1.7"/><rect x="89.65" y="280.35" width="1.7" height="1.7"/><rect x="92.60" y="256.75" width="1.7" height="1.7"/><rect x="92.60" y="259.70" width="1.7" height="1.7"/><rect x="92.60" y="262.65" width="1.7" height="1.7"/><rect x="92.60" y="265.60" width="1.7" height="1.7"/><rect x="92.60" y="268.55" width="1.7" height="1.7"/><rect x="92.60" y="271.50" width="1.7" height="1.7"/><rect x="92.60" y="274.45" width="1.7" height="1.7"/><rect x="92.60" y="277.40" width="1.7" height="1.7"/><rect x="92.60" y="280.35" width="1.7" height="1.7"/><rect x="95.55" y="259.70" width="1.7" height="1.7"/><rect x="95.55" y="262.65" width="1.7" height="1.7"/><rect x="95.55" y="265.60" width="1.7" height="1.7"/><rect x="95.55" y="268.55" width="1.7" height="1.7"/><rect x="95.55" y="271.50" width="1.7" height="1.7"/><rect x="95.55" y="274.45" width="1.7" height="1.7"/><rect x="95.55" y="277.40" width="1.7" height="1.7"/><rect x="98.50" y="265.60" width="1.7" height="1.7"/><rect x="98.50" y="268.55" width="1.7" height="1.7"/><rect x="98.50" y="271.50" width="1.7" height="1.7"/></g></g>
  <g fill="#251d1d">
    <circle cx="68.6" cy="218" r="1.3"/><circle cx="68.6" cy="247.7" r="1.3"/><circle cx="99.4" cy="247.7" r="1.3"/>
    <circle cx="68.6" cy="253.4" r="1.3"/><circle cx="99.4" cy="253.4" r="1.3"/><circle cx="68.6" cy="283.1" r="1.3"/><circle cx="99.4" cy="283.1" r="1.3"/>
  </g>
  <path class="t" d="M104.4 214 L100.5 216 h-2.5 v7 h2.5 L104.4 225" stroke-width="1"/><rect x="98" y="216" width="2.6" height="7" fill="#251d1d"/>
  <path class="t" d="M104.4 254 L100.5 256 h-2.5 v9.5 h2.5 L104.4 268" stroke-width="1"/><rect x="98" y="256" width="2.6" height="9.5" fill="#251d1d"/>
  <!-- brackets -->
  <path class="o" d="M49.4 295.6 H72 Q75 295.6 75 298.6 V318.8 Q75 320.8 73 320.8 H49.4 Z" stroke-width="1.4"/>
  <rect class="t" x="58" y="299.8" width="11.8" height="3.6" rx="1.8" stroke-width="1.1"/>
  <rect class="t" x="58" y="312.6" width="11.8" height="3.6" rx="1.8" stroke-width="1.1"/>
  <path d="M61 301.6 H67 M61 314.4 H67" stroke="#8a8484" stroke-width="0.8"/>
  <rect class="o" x="104.6" y="295.6" width="12.8" height="25.2" rx="3" stroke-width="1.4"/>
  <circle class="t" cx="110.8" cy="301.6" r="3.4"/><circle class="t" cx="110.8" cy="301.6" r="1.7" stroke-width="0.7"/><circle class="k" cx="110.8" cy="301.6" r="0.7"/>
  <circle class="t" cx="110.8" cy="314.2" r="3.4"/><circle class="t" cx="110.8" cy="314.2" r="1.7" stroke-width="0.7"/><circle class="k" cx="110.8" cy="314.2" r="0.7"/>
  <!-- lower panel -->
  <path class="t" d="M104.4 343.8 L101.8 346.3 V354.3 L104.4 356.8" stroke-width="1"/><rect x="97.6" y="346.5" width="4.2" height="7.6" rx="1" fill="#251d1d"/><rect x="99.4" y="347.9" width="1.8" height="4.8" fill="#9a9494"/>
<path class="t" d="M104.4 364.4 L101.8 366.9 V374.9 L104.4 377.4" stroke-width="1"/><rect x="97.6" y="367.1" width="4.2" height="7.6" rx="1" fill="#251d1d"/><rect x="99.4" y="368.5" width="1.8" height="4.8" fill="#9a9494"/>
<path class="t" d="M104.4 385.5 L101.8 388.0 V396.0 L104.4 398.5" stroke-width="1"/><rect x="97.6" y="388.2" width="4.2" height="7.6" rx="1" fill="#251d1d"/><rect x="99.4" y="389.6" width="1.8" height="4.8" fill="#9a9494"/>
<path class="t" d="M104.4 406.6 L101.8 409.1 V417.1 L104.4 419.6" stroke-width="1"/><rect x="97.6" y="409.3" width="4.2" height="7.6" rx="1" fill="#251d1d"/><rect x="99.4" y="410.7" width="1.8" height="4.8" fill="#9a9494"/>

  <g fill="#251d1d">
    <circle cx="75.5" cy="341.7" r="0.9"/><circle cx="72.1" cy="346.3" r="0.9"/><circle cx="78.7" cy="346.3" r="0.9"/><circle cx="72.1" cy="350" r="0.9"/>
    <rect x="75.9" y="348.6" width="4.9" height="6"/>
    <rect x="71.5" y="354.3" width="1.2" height="12"/>
    <rect x="75.9" y="361.1" width="4.9" height="7.5"/>
  </g>
  <rect x="74" y="371.3" width="7.8" height="12.3" rx="0.8" fill="#251d1d"/><rect x="75.3" y="372.5" width="1.2" height="9.9" fill="#9c9898"/><path d="M76.9 372.80 L80.9 374.98 L76.9 377.15z" fill="#f4f4f6"/><path d="M76.9 377.75 L80.9 379.93 L76.9 382.10z" fill="#f4f4f6"/>
  <rect x="74" y="385.2" width="7.8" height="6.6" rx="0.8" fill="#251d1d"/><rect x="75.3" y="386.4" width="1.2" height="4.2" fill="#9c9898"/><path d="M76.9 386.70 L80.9 388.50 L76.9 390.30z" fill="#f4f4f6"/>
  <rect x="74" y="393.4" width="7.8" height="12.9" rx="0.8" fill="#251d1d"/><rect x="75.3" y="394.6" width="1.2" height="10.5" fill="#9c9898"/><path d="M76.9 394.90 L80.9 397.22 L76.9 399.55z" fill="#f4f4f6"/><path d="M76.9 400.15 L80.9 402.47 L76.9 404.80z" fill="#f4f4f6"/>
  <circle class="t" cx="75.7" cy="434.8" r="4" stroke-width="1.8"/>
  <circle class="t" cx="75.7" cy="434.8" r="1.9" stroke-width="0.9"/>
  <circle class="t" cx="68.3" cy="483.7" r="1.3" stroke-width="0.9"/>
  <circle class="t" cx="110.5" cy="483.7" r="1.3" stroke-width="0.9"/>
</g>

<!-- ========== BOTTOM VIEW ========== -->
<g id="bottom">
  <path class="o" d="M256.6 633.4 V598 Q256.6 586.1 268.5 586.1 H500 Q511.8 586.1 511.8 598 V674.7 H475" stroke-width="1.7"/>
  <path class="f" d="M475 674.7 H290" stroke-width="1.2"/>
  <path class="o" d="M290 674.7 H262 Q257.2 674.7 257.2 670 V633.4" stroke-width="1.5"/>
  <path class="o" d="M512.5 614 V674" stroke-width="2"/>
  <path class="o" d="M256.6 599.4 H511.8"/>
  <path class="o" d="M255.6 620 V633.4" stroke-width="2.2"/>
  <path class="o" d="M256.6 605.5 H282 V674.7 M256.6 632.8 H282" stroke-width="1.4"/>
  <path class="t" d="M262.3 633 V670 M265.6 639 V665.4 H282 M265.6 665.4 L262.3 670" stroke-width="1.1"/>
  <path class="t" d="M264 633 v3.5 h10 v-3.5 M266 636.5 v2.5 h7 v-2.5" stroke-width="0.9"/>
  <path class="k2" d="M279.3 654.7 h2.7 v9 h-2.7 z"/>
  <rect class="t" x="288.6" y="605.6" width="214.8" height="63.3" stroke-width="1.3"/>
  <circle class="t" cx="299" cy="616" r="1.4" stroke-width="1"/>
  <circle class="t" cx="299" cy="658.4" r="1.4" stroke-width="1"/>
  <circle class="t" cx="485.4" cy="616" r="1.4" stroke-width="1"/>
  <circle class="t" cx="485.4" cy="658.4" r="1.4" stroke-width="1"/>
  <path class="o" d="M281.6 674.7 V688 H256.6"/>
  <g class="k"><ellipse cx="374.5" cy="585.8" rx="1.3" ry="0.7"/><ellipse cx="381" cy="585.8" rx="1.3" ry="0.7"/><ellipse cx="387.5" cy="585.8" rx="1.3" ry="0.7"/><ellipse cx="394" cy="585.8" rx="1.3" ry="0.7"/></g>
</g>

<!-- ========== ISOMETRIC VIEW ========== -->
<g id="iso">
  <!-- front face -->
  <path class="o" d="M791 613.2 V444.5 Q791 440.5 797.9 438.4 L913.6 505.7 V673.8" stroke-width="1.4"/>
  <!-- top face -->
  <path class="o" d="M797.9 438.4 L808.6 431.3 L820.2 438.4 L833 431.1 L839.9 427.5 L944.3 488 L913.6 505.7" stroke-width="1.4"/>
  <path class="t" d="M815.9 435.9 L826.5 429.2 Q828.5 428 830.5 429.3 L832.6 430.6" stroke-width="1.2"/>
  <path class="t" d="M828.6 432 q1 -1.4 0 -2.6" stroke-width="0.8"/>
  <circle class="k" cx="814.6" cy="451.5" r="1.2"/>
  <circle class="k" cx="853.4" cy="473.8" r="1.2"/>
  <circle class="k" cx="892.2" cy="496.2" r="1.2"/>
  <!-- right face upper -->
  <path class="o" d="M944.3 488 V494.3 L914.6 509.6" stroke-width="1.3"/>
  <path class="o" d="M939.1 497.5 V550" stroke-width="1.5"/>
  <path d="M921.8 508.4 L937.4 500.4 V534.6 L921.8 542.4 Z" fill="#251d1d"/>
  <path d="M917.6 510.6 V556.5" stroke="#251d1d" stroke-width="1.3"/>
  <path d="M917.6 510.6 L921.8 508.4" stroke="#251d1d" stroke-width="1"/>
  <g fill="none" stroke="#251d1d" stroke-width="1.1">
    <path d="M921 511.5 a1.6 1.6 0 1 0 0 3"/><path d="M921 516.4 a1.6 1.6 0 1 0 0 3"/><path d="M921 521.3 a1.6 1.6 0 1 0 0 3"/>
    <path d="M921 526.2 a1.6 1.6 0 1 0 0 3"/><path d="M921 531.1 a1.6 1.6 0 1 0 0 3"/><path d="M921 536 a1.6 1.6 0 1 0 0 3"/>
    <path d="M921 540.9 a1.6 1.6 0 1 0 0 3"/><path d="M921 545.8 a1.6 1.6 0 1 0 0 3"/><path d="M921 550.7 a1.6 1.6 0 1 0 0 3"/>
  </g>
  <circle class="t" cx="933.4" cy="546" r="2.1" stroke-width="2.3"/>
  <path d="M923.8 550.6 L929 548 V550.5 L923.8 553.1z" fill="#251d1d"/>
  <path class="t" d="M917.4 556.7 V568.5 L938.6 558 M917.4 560.1 L938.6 549.6" stroke-width="1.1"/>
  <path class="o" d="M914 563.5 L938.6 551.8" stroke-width="1"/>
  <path class="o" d="M938.6 549.6 Q941.5 549.4 944.4 552.7 V673.8" stroke-width="1.3"/>
  <rect class="t" x="939.4" y="554.7" width="6" height="14.6" rx="3" stroke-width="1"/>
  <circle class="t" cx="942.5" cy="558.1" r="1.6" stroke-width="1.4"/>
  <circle class="t" cx="942.5" cy="565" r="1.6" stroke-width="1.4"/>
  <!-- separation -->
  <path class="o" d="M791 516.7 L896 578 Q901 580.8 906.5 580 L913.6 577.6 L938.9 565.1" stroke-width="1.3"/>
  <!-- iso handle -->
  <path class="t" d="M916.6 582.4 L938.3 571.3 V585.3 L916.6 598.1 Z" stroke-width="1.7"/>
  <path d="M918 586 L921.4 584.2 V594.3 L918 596 Z" fill="#8a8484" stroke="#251d1d" stroke-width="0.8"/>
  <path d="M933.7 578.5 L937.4 576.6 V585 L933.7 587 Z" fill="#8a8484" stroke="#251d1d" stroke-width="0.8"/>
  <path class="t" d="M921.4 584.2 L933.7 578.5 M921.4 589 L933.7 583.5 M919 594 L937.4 585.5" stroke-width="1"/>
  <!-- base -->
  <path class="o" d="M791 613.2 Q791 614 792.9 614.9 L898.8 676.5 Q903 678.6 907 676.7 L914.1 673.8 L944.7 656.2" stroke-width="1.3"/>
  <path class="o" d="M791 613.2 V630.3 Q791 632 792.4 632.7 L800.6 637.6 L805.3 629.4 L885.8 676 Q888 677.4 888.6 680 L890.3 687 Q891.4 691 895 693 L899.5 695.3 Q902 696.2 904.2 694.9 L944.7 673.8 V656" stroke-width="1.3"/>
  <circle class="k" cx="911.4" cy="542.3" r="1.2"/>
  <circle class="k" cx="911.4" cy="627" r="1.2"/>
  <circle class="k" cx="942" cy="654.4" r="1"/>
  <!-- iso panel -->
  <path class="t" d="M841.1 489.4 L880.6 511.7 V532.3 L844.6 510.8 Q836 505.5 834.8 498 Q834.4 491 838.5 489.2 Q840 488.8 841.1 489.4 Z" stroke-width="1.2"/>
  <path class="t" d="M839.9 495.4 L851 501.4 V508.3 L839.9 502.3 Z" stroke-width="1"/>
  <g fill="#251d1d">
    <circle cx="841.2" cy="492.6" r="0.95"/><circle cx="844.1" cy="494.2" r="0.95"/><circle cx="847" cy="495.8" r="0.95"/><circle cx="849.9" cy="497.4" r="0.95"/>
    <circle cx="841.4" cy="505.3" r="1.3"/><circle cx="844.2" cy="507" r="1.3"/><circle cx="847" cy="508.6" r="1.3"/><circle cx="849.8" cy="510.3" r="1.3"/>
  </g>
</g>

</g>
</svg>
</body></html>
